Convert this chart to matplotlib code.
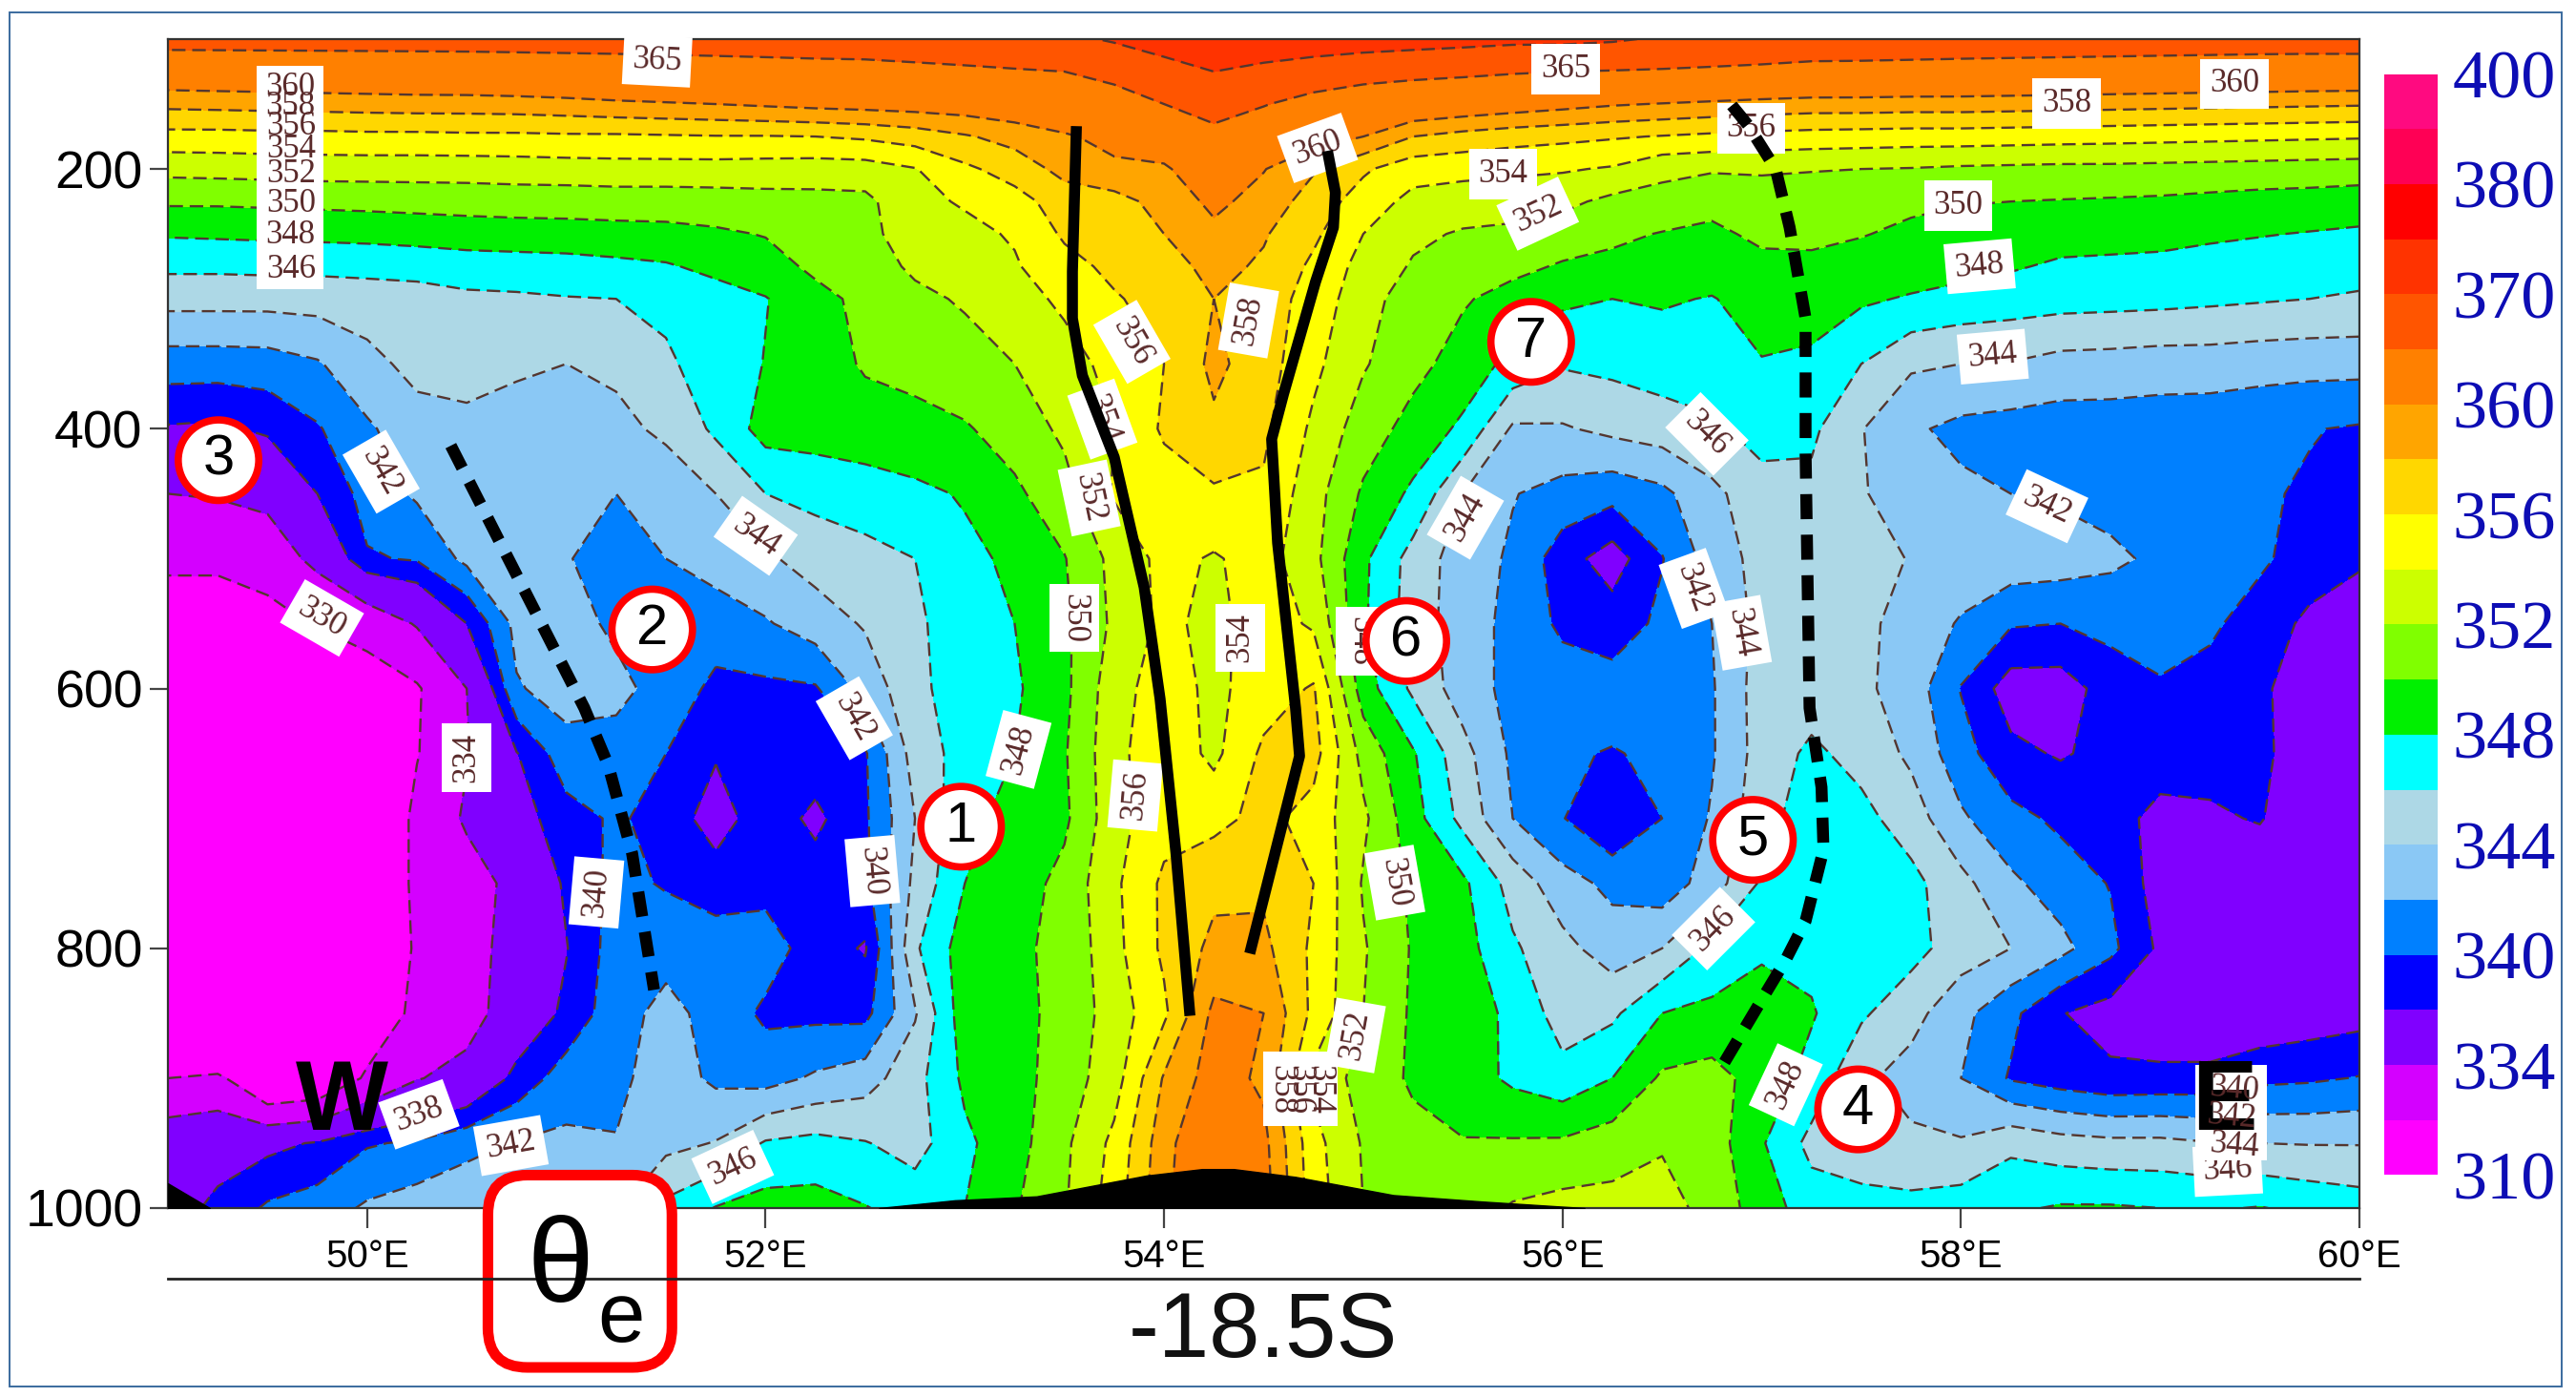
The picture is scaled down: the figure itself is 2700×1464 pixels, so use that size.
import numpy as np
import matplotlib
matplotlib.use('Agg')
import matplotlib.pyplot as plt
from matplotlib.patches import Circle, FancyBboxPatch, Rectangle

plt.rcParams['font.family'] = ['Liberation Sans', 'DejaVu Sans']

# theta-e cross section, one row per pressure level
lon = [49 + 0.25 * i for i in range(45)]
pressure = [100, 125, 150, 175, 200, 225, 250, 275, 300, 350, 400, 450, 500, 550, 600, 650, 700, 750, 800, 850, 900, 950, 1000]

row_100 = [366.5, 366.5, 366.5, 366.5, 366.5, 366.5, 366.5, 366.5, 366.5, 366.5, 366.5, 366.5, 366.5, 366.5, 366.5,
           367, 367.5, 368, 369, 370.5, 373, 375, 374, 373, 372.5, 372, 371.5, 371, 371, 370.5,
           369.5, 369, 368.5, 368, 368, 367.8, 367.6, 367.5, 367.4, 367.3, 367.2, 367.1, 367, 367, 367]
row_125 = [362, 362.1, 362.2, 362.3, 362.4, 362.5, 362.6, 362.8, 363, 363.2, 363.4, 363.6, 363.8, 364, 364.1,
           364.2, 364.4, 364.7, 365, 366, 367.5, 370, 368.5, 367.5, 366.5, 366, 365.7, 365.3, 365, 364.8,
           364.6, 364.3, 364, 363.6, 363.5, 363.4, 363.3, 363.2, 363.1, 363, 362.9, 362.8, 362.7, 362.6, 362.6]
row_150 = [358.5, 358.6, 358.7, 358.8, 358.9, 359, 359, 359.1, 359.3, 359.6, 359.8, 360, 360.3, 360.6, 360.8,
           361, 361.2, 361.7, 362.4, 363.5, 365, 366.5, 365.2, 363.6, 362.7, 362.2, 361.7, 361.2, 360.7, 360.2,
           359.9, 359.6, 359.3, 359.1, 359.1, 359, 359, 358.9, 358.8, 358.7, 358.6, 358.5, 358.4, 358.3, 358.2]
row_175 = [355.3, 355.3, 355.4, 355.4, 355.5, 355.5, 355.6, 355.6, 355.7, 355.7, 355.8, 355.9, 355.9, 356, 356.3,
           356.9, 357.8, 358.7, 359.7, 360.8, 362, 364, 362.5, 361, 360, 358, 357.3, 356.8, 356.5, 356.2,
           355.9, 355.6, 355.4, 355.2, 355.1, 355, 355, 354.9, 354.8, 354.7, 354.6, 354.5, 354.4, 354.3, 354.2]
row_200 = [352.6, 352.7, 352.8, 352.9, 352.9, 352.9, 352.9, 353, 353.1, 353.2, 353.2, 353.2, 353.1, 353, 353.1,
           353.9, 355.6, 356.9, 358.6, 359.5, 359.6, 362.2, 360.1, 358.2, 356.3, 354.8, 354.6, 354.4, 354.2, 353.8,
           352.5, 352.2, 352.2, 352.1, 352, 351.9, 351.7, 351.6, 351.5, 351.5, 351.4, 351.3, 351.2, 351.1, 351]
row_225 = [350.3, 350.3, 350.4, 350.5, 350.6, 350.7, 350.8, 350.9, 350.9, 351, 351, 351.1, 351.3, 351.4, 351.5,
           353.5, 354.2, 355.2, 357, 357.3, 358.7, 360.5, 359.2, 357.1, 355.1, 353.4, 353, 352.8, 352.5, 351.5,
           351.3, 350.6, 351.2, 351, 350.9, 350.4, 350.1, 350, 349.9, 349.8, 349.7, 349.5, 349.3, 349.2, 349]
row_250 = [348.2, 348.3, 348.4, 348.5, 348.6, 348.8, 349, 349.1, 349.2, 349.3, 349.4, 349.7, 350.1, 351, 351.5,
           352.9, 353.5, 354.2, 356.3, 357, 358, 359.5, 358.2, 356.4, 354, 352.4, 351.8, 351.6, 351, 350.4,
           349.9, 349.6, 350.4, 350.4, 350.1, 349.6, 349.3, 349.1, 348.8, 348.7, 348.6, 348.3, 348.1, 347.9, 347.7]
row_275 = [346.4, 346.4, 346.5, 346.5, 346.6, 346.7, 347, 347.1, 347.2, 347.5, 347.8, 348.5, 349.2, 350.4, 351.2,
           352.3, 352.9, 353.8, 355.3, 356.5, 357.2, 358.6, 357.7, 355.6, 353.3, 351.8, 351, 350.5, 349.8, 349.5,
           349.2, 348.9, 349.5, 349.6, 349.2, 349, 348.7, 348.2, 347.7, 347.6, 347.5, 347.3, 347.1, 346.8, 346.6]
row_300 = [344.7, 344.7, 344.7, 344.8, 345, 345.2, 345.6, 345.7, 345.9, 346, 346.3, 347.2, 347.9, 349.4, 350.5,
           351.6, 352.2, 353, 354.5, 355.8, 356.8, 358, 357, 355.2, 352.8, 351, 350.2, 349.3, 348.4, 348,
           348.2, 347.9, 348.8, 348.7, 348.3, 347.8, 347.3, 347, 346.8, 346.7, 346.6, 346.4, 346.2, 346, 345.8]
row_350 = [341, 341, 341.1, 341.8, 343.4, 344.6, 344.6, 344.3, 344, 344.3, 345.8, 346.6, 348.1, 349.1, 350.2,
           350.4, 351.3, 352, 353, 354.8, 356, 358.5, 356.9, 354.5, 352.2, 350.6, 349.2, 347.4, 346.2, 346.5,
           347, 347.4, 347.9, 347.7, 346, 344.3, 344, 343.9, 343.3, 343.2, 343, 343, 342.8, 342.7, 342.7]
row_400 = [337.8, 337.6, 338.4, 339.8, 341.7, 343.2, 343.6, 343.2, 343.5, 343.6, 344.3, 346.4, 348.8, 348.9, 349.2,
           349.6, 349.8, 350.9, 352.4, 354, 356.3, 357.6, 356.4, 353.6, 351, 349.3, 347.6, 343.7, 343.8, 344.5,
           345, 345.6, 346.8, 346.4, 344.1, 342.3, 341.5, 341.2, 341, 341, 340.9, 340.8, 340.5, 340.1, 339.8]
row_450 = [334, 334.3, 335, 338, 340.8, 342.3, 343.2, 343.2, 343.3, 342, 343.1, 344, 346, 346.6, 347,
           347.5, 348.2, 349.6, 351.3, 354.2, 355, 355.7, 355.7, 352.8, 349.7, 347.6, 344, 342.1, 341.3, 340.7,
           341.5, 343.5, 345.2, 345.5, 344.2, 342.8, 342.4, 342, 341.7, 341.3, 341, 340.7, 340.2, 339.8, 339.2]
row_500 = [330.7, 330.7, 331.8, 335, 339.8, 340.2, 342.5, 343, 342.1, 341.3, 342, 343, 343.7, 344.8, 345.4,
           346, 347.5, 348.4, 349.9, 352.6, 354.6, 353.8, 354.8, 352.6, 348.4, 345.2, 343, 341.7, 338.9, 337,
           339.9, 342.9, 344.7, 344.7, 344.7, 343.9, 343.2, 343.2, 343, 342.4, 341.6, 341.1, 340.3, 339.2, 338.3]
row_550 = [328, 328, 328.6, 330.3, 331.5, 334.3, 338, 342.6, 343, 341.5, 341, 340.8, 341.8, 343, 344.2,
           345.8, 346.6, 348, 349.6, 352.4, 354.5, 353.4, 355, 353.7, 348.3, 345, 343, 341.4, 339.6, 339,
           340.4, 342, 344.7, 345, 344.5, 343.2, 341.8, 340.2, 340, 340.6, 340.4, 340.3, 339.2, 337.5, 336.8]
row_600 = [322, 322, 323, 325, 328, 329.6, 334, 341.8, 342.9, 342.7, 341, 339.6, 339.6, 339.8, 342.7,
           345.5, 347, 347.7, 349.5, 353.2, 355, 353.5, 355, 356.2, 349, 345.6, 343, 341.4, 341, 340.8,
           341, 341.8, 345, 345, 344.4, 343.1, 339.9, 337, 337, 338.9, 339.9, 339.4, 338.5, 336.5, 335.5]
row_650 = [320, 320, 321, 323, 326, 329.8, 333.8, 337.9, 341.2, 341, 340, 338.2, 339.5, 339.2, 339.8,
           344.9, 346.8, 348, 349.8, 353.4, 355.4, 353.5, 356.4, 356.8, 351.3, 348.2, 344.7, 341.6, 340.2, 339.9,
           340.3, 341.8, 344.9, 346.4, 345.3, 343.6, 340.8, 338.5, 337.8, 338.6, 339, 339, 338.8, 336, 335]
row_700 = [318, 318, 319, 321, 325, 331, 334.5, 337, 339.2, 340.3, 339.2, 337, 339.2, 337.5, 339.7,
           344, 347.5, 348.6, 349.6, 353.3, 355.2, 355.4, 356.6, 355.2, 352.4, 348.8, 345.4, 342, 340.1, 338,
           340, 342.2, 345.3, 347, 346.6, 345, 342.3, 340.6, 339.6, 338.8, 337.4, 337.6, 338.2, 336, 335]
row_750 = [316, 316, 317, 320, 325, 331, 332.5, 335, 338.4, 340.6, 339.8, 339, 339.3, 339, 339.5,
           344.5, 348, 349, 350.6, 353.6, 356.4, 357.5, 357.6, 356, 351.8, 349.6, 348.4, 345.2, 342.8, 341.5,
           340.8, 343, 346.3, 347, 347, 346.6, 344.6, 342.4, 341, 339.9, 337, 336, 336, 335.5, 335]
row_800 = [316, 316, 317, 320, 326, 330.5, 332.5, 335.5, 337.9, 341, 341.3, 341, 341, 339, 337.8,
           345.7, 349, 349.7, 350.4, 353.4, 356.4, 358.5, 358.5, 355.6, 352.2, 349.8, 348.8, 346.3, 344.6, 343,
           344, 346.5, 347.6, 347.4, 347.2, 346.7, 345, 344, 342.6, 340.5, 337.6, 336, 335.6, 335.3, 335]
row_850 = [316, 316, 318, 321, 327, 331, 332.5, 336, 338.5, 341.2, 342.6, 341.3, 339.6, 339.5, 339.4,
           343.8, 349.2, 349.4, 350.6, 352.9, 355.6, 360.5, 360, 355.5, 352, 349.7, 348.7, 347.7, 345, 345.6,
           348, 348.5, 349.2, 348.2, 346.3, 344.7, 342.6, 340.5, 338.1, 337.2, 336.5, 336.2, 336.3, 336.8, 337.2]
row_900 = [330, 331, 325, 326, 330.6, 333.8, 335.2, 338.7, 341, 341.5, 343, 341.6, 341.2, 342.3, 343.1,
           345.3, 348.4, 349.2, 351, 353.1, 358.2, 361, 359.6, 353.5, 351.2, 349.7, 349, 347.6, 346.7, 348,
           350.3, 350.7, 349.2, 347.3, 344.4, 343.2, 342, 339.8, 339, 338.4, 338.5, 338.6, 339.5, 339.7, 340.1]
row_950 = [336.6, 337, 337.4, 338.2, 339.8, 340.3, 341.5, 342.1, 342.4, 342.1, 343.4, 344.1, 346.2, 346.6, 346.1,
           345.2, 347.6, 349.2, 351.6, 354.5, 359.2, 362.6, 360.6, 354.7, 351.8, 350.6, 350.1, 350.2, 350.3, 351,
           351.8, 351, 348.2, 345.4, 345, 344.4, 344.2, 345.5, 344.8, 344.5, 344.5, 344.1, 344, 343.9, 343.9]
row_1000 = [337, 338.5, 340.3, 341, 342.3, 343, 343.2, 343.5, 343.5, 343.7, 346.5, 348.1, 348.8, 348.8, 348.1,
            347.2, 348, 349.8, 351.8, 355, 359.5, 363, 361, 355, 352, 350.8, 351, 352.2, 352.7, 352.7,
            352.8, 351.3, 349, 347, 346.6, 346.6, 347, 347.7, 348.2, 348.2, 348, 347.8, 348.1, 347.5, 347]

levels = [310, 330, 334, 338, 340, 342, 344, 346, 348, 350, 352, 354, 356, 358, 360, 365, 370, 375, 380, 390, 400]
line_levels = [330, 334, 338, 340, 342, 344, 346, 348, 350, 352, 354, 356, 358, 360, 365, 370]
fill_colors = ['#ff00ff', '#d400ff', '#8000ff', '#0000ff', '#0080ff', '#8ac8f5', '#add8e6', '#00ffff', '#00f000',
               '#80ff00', '#ccff00', '#ffff00', '#ffd700', '#ffa500', '#ff8000', '#ff5500', '#ff3300', '#ff0000',
               '#ff0055', '#ff0a80']

# ground and the drawn fronts, lon / hPa
ground_lon = [52.57, 52.95, 53.36, 53.91, 54.19, 54.35, 54.66, 55.15, 55.6, 56.11]
ground_p = [1000, 994, 991, 975, 970, 970, 976, 990, 995, 1000]
corner_lon = [49, 49.21]
corner_p = [981, 1000]
front1_lon = [53.56, 53.54, 53.54, 53.59, 53.75, 53.90, 53.98, 54.06, 54.13]
front1_p = [167, 279, 315, 359, 422, 522, 608, 727, 852]
front2_lon = [54.82, 54.86, 54.85, 54.76, 54.60, 54.54, 54.57, 54.66, 54.68, 54.43]
front2_p = [186, 218, 245, 287, 373, 408, 488, 615, 652, 804]
west_lon = [50.42, 51.09, 51.21, 51.33, 51.44]
west_p = [413, 615, 659, 727, 832]
east_lon = [56.85, 56.93, 57.07, 57.14, 57.22, 57.22, 57.24, 57.30, 57.31, 57.22, 57.12, 57.01, 56.80]
east_p = [151, 166, 200, 245, 315, 418, 615, 676, 724, 779, 809, 837, 891]

# contour labels: x, y on the 1568x850 picture, text, angle
contour_labels = [
    (400, 37, '365', -3), (953, 42, '365', 0), (1360, 51, '360', 0), (1258, 63, '358', 0),
    (196, 376, '330', -30), (232, 287, '342', -60), (460, 326, '344', -35), (520, 437, '342', -60),
    (284, 461, '334', 90), (363, 543, '340', 85), (531, 530, '340', -85), (255, 678, '338', 20),
    (311, 697, '342', 10), (446, 710, '346', 25), (620, 456, '348', 75), (654, 376, '350', -90),
    (663, 303, '352', -78), (671, 255, '354', -70), (689, 208, '356', -60), (760, 195, '358', 80),
    (802, 90, '360', 20), (755, 388, '354', 90), (691, 484, '356', 85), (828, 390, '348', -90),
    (849, 537, '350', -80), (825, 630, '352', 80), (915, 106, '354', 0), (936, 130, '352', 25),
    (1066, 78, '356', 0), (1192, 125, '350', 0), (1205, 162, '348', 5), (1213, 217, '344', 5),
    (1246, 308, '342', -25), (1039, 264, '346', -45), (892, 315, '344', 60), (1031, 358, '342', -70),
    (1060, 385, '344', -80), (1043, 565, '346', 45), (1087, 660, '348', 65), (1356, 712, '346', 3),
]
# labels that pile up on one white patch
stacked_labels = [
    (177, 164, '346', 0), (177, 143, '348', 0), (177, 124, '350', 0), (177, 106, '352', 0),
    (177, 91, '354', 0), (177, 77, '356', 0), (177, 65, '358', 0), (177, 53, '360', 0),
    (780, 663, '358', -90), (791, 663, '356', -90), (803, 663, '354', -90),
    (1360, 663, '340', -5), (1358, 680, '342', -5), (1360, 697, '344', -5),
]
stack_patches = [(156, 40, 41, 136), (769, 640, 45, 45), (1336, 648, 44, 58)]
# numbered circles: x, y on the picture
circles = [(585, 503, '1'), (397, 383, '2'), (133, 280, '3'), (1131, 675, '4'), (1067, 511, '5'), (856, 390, '6'), (932, 208, '7')]
y_ticks = [200, 400, 600, 800, 1000]
x_ticks = [50, 52, 54, 56, 58, 60]


def main():
    theta_e = np.array([row_100, row_125, row_150, row_175, row_200, row_225, row_250, row_275, row_300,
                        row_350, row_400, row_450, row_500, row_550, row_600, row_650, row_700, row_750,
                        row_800, row_850, row_900, row_950, row_1000])

    fig = plt.figure(figsize=(27, 14.64), dpi=100, facecolor='white')
    ax = fig.add_axes([176 / 2700, 1 - 1266 / 1464, (2473 - 176) / 2700, (1266 - 41) / 1464])
    ov = fig.add_axes([0, 0, 1, 1], zorder=10)
    ov.set_xlim(0, 1568)
    ov.set_ylim(850, 0)
    ov.axis('off')
    ov.patch.set_alpha(0)

    cf = ax.contourf(lon, pressure, theta_e, levels=levels, colors=fill_colors)
    ax.contour(lon, pressure, theta_e, levels=line_levels, colors='#54362f', linewidths=1.7,
               linestyles=[(0, (6, 3))])
    ax.fill_between(ground_lon, ground_p, 1000, color='black', zorder=3)
    ax.fill_between(corner_lon, corner_p, 1000, color='black', zorder=3)

    ax.set_xlim(49, 60)
    ax.set_ylim(1000, 100)
    ax.set_yticks(y_ticks)
    ax.set_xticks(x_ticks)
    ax.set_xticklabels([f'{v}°E' for v in x_ticks])
    ax.tick_params(axis='y', length=14, width=1.6, color='#444444', labelsize=40, pad=5)
    ax.tick_params(axis='x', length=15, width=1.6, color='#444444', labelsize=29, pad=8)
    for s in ax.spines.values():
        s.set_color('#333333')
        s.set_linewidth(1.6)

    # white label boxes
    for x, y, txt, ang in contour_labels:
        ax.text(x, y, txt, transform=ov.transData, family='Liberation Serif', fontsize=25, color='#5a2a2a',
                rotation=ang, rotation_mode='anchor', ha='center', va='center', zorder=5, clip_on=False,
                bbox=dict(boxstyle='square,pad=0.28', fc='white', ec='none'))
    for x, y, w, h in stack_patches:
        ax.add_patch(Rectangle((x, y), w, h, transform=ov.transData, fc='white', ec='none', zorder=5))
    ax.text(1354, 672, 'E', transform=ov.transData, fontsize=74, fontweight='bold', ha='center', va='center',
            color='black', zorder=5.2)
    for x, y, txt, ang in stacked_labels:
        ax.text(x, y, txt, transform=ov.transData, family='Liberation Serif', fontsize=25, color='#5a2a2a',
                rotation=ang, rotation_mode='anchor', ha='center', va='center', zorder=5.4, clip_on=False)

    ax.plot(front1_lon, front1_p, color='black', lw=8.3, zorder=6, solid_capstyle='butt')
    ax.plot(front2_lon, front2_p, color='black', lw=8.3, zorder=6, solid_capstyle='butt')
    ax.plot(west_lon, west_p, color='black', lw=9, zorder=6, linestyle=(0, (2.1, 1.3)))
    ax.plot(east_lon, east_p, color='black', lw=9, zorder=6, linestyle=(0, (2.1, 1.3)))

    # colour bar
    cax = fig.add_axes([1451 / 1568, 1 - 715 / 850, 33 / 1568, 670 / 850])
    cb = fig.colorbar(cf, cax=cax, ticks=levels[::2], spacing='uniform')
    cb.outline.set_visible(False)
    cb.ax.tick_params(length=0, pad=11, labelsize=52, labelcolor='#0d0db4', labelfontfamily='Liberation Serif')

    # overlay marks
    ov.add_patch(Rectangle((6, 7.5), 1553, 836, fill=False, ec='#3a6a9e', lw=1.4))
    ov.plot([102, 1436], [778, 778], color='#222222', lw=2)
    ov.text(769, 811, '-18.5S', fontsize=69, ha='center', va='center', color='#111111')
    ov.text(208, 672, 'W', fontsize=74, fontweight='bold', ha='center', va='center', color='black')

    ov.add_patch(FancyBboxPatch((297, 715), 112, 117, boxstyle='round,pad=0,rounding_size=24', fc='white',
                                ec='#ff0000', lw=8))
    ov.text(341, 773, 'θ', fontsize=90, ha='center', va='center', color='black')
    ov.text(378, 803, 'e', fontsize=64, ha='center', va='center', color='black')

    for x, y, txt in circles:
        ov.add_patch(Circle((x, y), 24.5, fc='white', ec='#ff0000', lw=5.5))
        ov.text(x, y, txt, fontsize=43, ha='center', va='center', color='black')

    fig.savefig('out.png', dpi=100, facecolor='white')


if __name__ == '__main__':
    main()
